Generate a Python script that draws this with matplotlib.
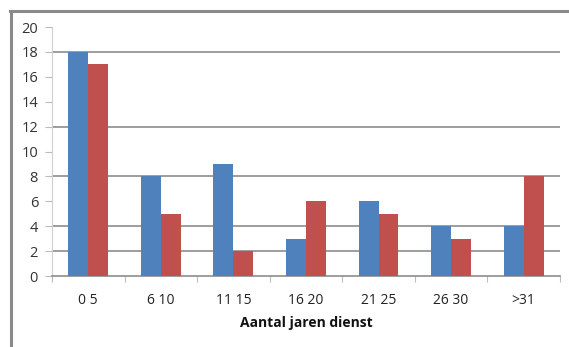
import matplotlib
matplotlib.use("Agg")
import matplotlib.pyplot as plt
import numpy as np
from matplotlib.lines import Line2D

categories = ["0 5", "6 10", "11 15", "16 20", "21 25", "26 30", ">31"]
series_blue = [18, 8, 9, 3, 6, 4, 4]
series_red = [17, 5, 2, 6, 5, 3, 8]
y_ticks = [0, 2, 4, 6, 8, 10, 12, 14, 16, 18, 20]
grid_values = [2, 4, 8, 12, 18]
x_title = "Aantal jaren dienst"

plt.rcParams["font.family"] = ["Open Sans", "DejaVu Sans"]

fig = plt.figure(figsize=(5.69, 3.47), dpi=100)
ax = fig.add_axes([0.0914, 0.2046, 0.8926, 0.7174])

x = np.arange(len(categories))
w = 0.275
ax.bar(x - w / 2, series_blue, width=w, color="#4F81BD", zorder=3)
ax.bar(x + w / 2, series_red, width=w, color="#C0504D", zorder=3)

ax.set_xlim(-0.5, len(categories) - 0.5)
ax.set_ylim(0, 20)

for g in grid_values:
    ax.axhline(g, color="#8c8c8c", lw=1.2, zorder=1)

ax.set_yticks(y_ticks)
ax.set_yticklabels([str(v) for v in y_ticks], fontsize=10.5, color="#333333")
ax.tick_params(axis="y", length=5, width=0.8, color="#bbbbbb", pad=5)

ax.set_xticks(x)
ax.set_xticklabels(categories, fontsize=10, color="#222222")
ax.set_xticks(np.arange(len(categories) + 1) - 0.5, minor=True)
ax.tick_params(axis="x", which="major", length=0, pad=12)
ax.tick_params(axis="x", which="minor", length=4, width=0.8, color="#bbbbbb")

for s in ["top", "right"]:
    ax.spines[s].set_visible(False)
ax.spines["left"].set_color("#cfcfcf")
ax.spines["bottom"].set_color("#8c8c8c")
ax.spines["bottom"].set_linewidth(1.2)

ax.set_xlabel(x_title, fontsize=10, fontweight="bold", color="#111111", labelpad=6)

# outer chart frame (left and top edges)
fig.add_artist(Line2D([11 / 569, 11 / 569], [0, 1 - 11 / 347], color="#8a8a8a", lw=2.2,
                      transform=fig.transFigure))
fig.add_artist(Line2D([10 / 569, 1], [1 - 11 / 347, 1 - 11 / 347], color="#8a8a8a", lw=2.2,
                      transform=fig.transFigure))

fig.savefig("out.png", dpi=100)
